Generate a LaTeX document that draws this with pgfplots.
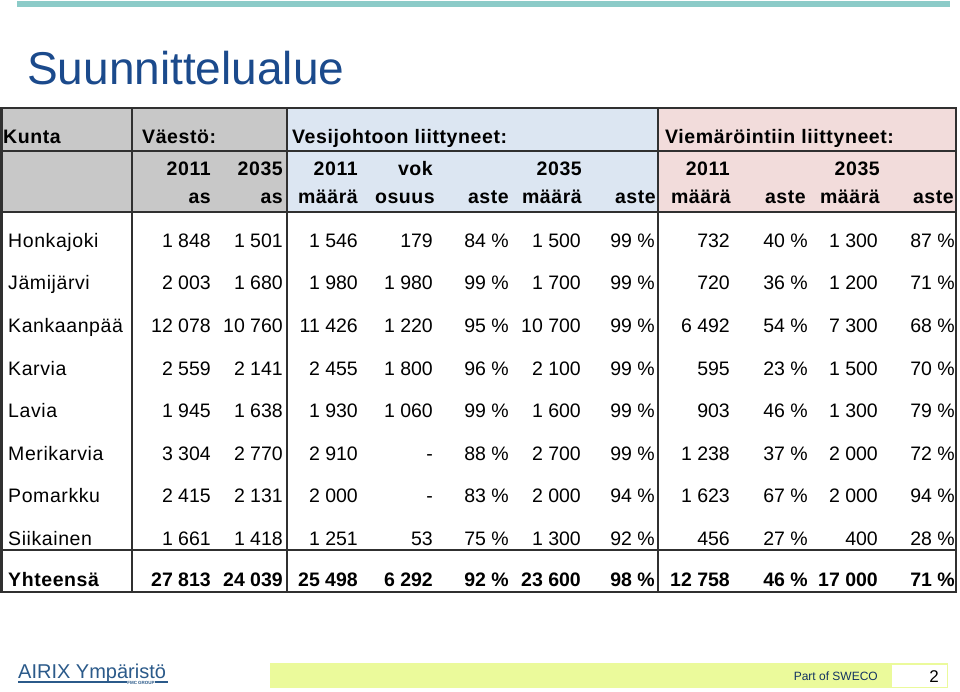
\documentclass[border=0pt]{standalone}
\usepackage{pgfplots}
\pgfplotsset{compat=1.18}
\usepackage{fontspec}
\setmainfont{Liberation Sans}
\newfontfamily\wide[LetterSpace=3]{Liberation Sans}
\definecolor{titleblue}{HTML}{1B4A8C}
\definecolor{tealline}{HTML}{8CCBC8}
\definecolor{hgrey}{HTML}{C8C8C8}
\definecolor{hblue}{HTML}{DCE6F2}
\definecolor{hpink}{HTML}{F2DCDB}
\definecolor{gridc}{HTML}{303030}
\definecolor{logoblue}{HTML}{2B5A8A}
\definecolor{footyellow}{HTML}{EBFA9B}
\newcommand\s{~}
\newcommand\R[3]{\node[anchor=base east,inner sep=0pt] at (axis cs:#1,#2) {#3};}
\newcommand\Lt[3]{\node[anchor=base west,inner sep=0pt] at (axis cs:#1,#2) {#3};}
% row: baseline, name, seven values (population and water)
\newcommand\rowA[9]{%
  \Lt{8}{#1}{\wide #2}\R{211}{#1}{#3}\R{283}{#1}{#4}\R{358}{#1}{#5}%
  \R{433}{#1}{#6}\R{509}{#1}{#7}\R{581}{#1}{#8}\R{655}{#1}{#9}}
% row: baseline, four sewer values
\newcommand\rowB[5]{%
  \R{730}{#1}{#2}\R{808}{#1}{#3}\R{878}{#1}{#4}\R{955}{#1}{#5}}
\begin{document}
\begin{tikzpicture}
\begin{axis}[scale only axis, width=960pt, height=692pt,
  xmin=0, xmax=960, ymin=0, ymax=692, y dir=reverse,
  hide axis, clip=false]
\fill[white] (axis cs:0,0) rectangle (axis cs:960,692);
% top line
\fill[tealline] (axis cs:17,1) rectangle (axis cs:950,7);
% title
\node[anchor=base west,inner sep=0pt,text=titleblue,font=\fontsize{46}{50}\selectfont] at (axis cs:27,85) {Suunnittelualue};
% header fills
\fill[hgrey] (axis cs:1,108) rectangle (axis cs:287,212);
\fill[hblue] (axis cs:287,108) rectangle (axis cs:658,212);
\fill[hpink] (axis cs:658,108) rectangle (axis cs:956,212);
% grid lines
\draw[gridc,line width=1.3pt] (axis cs:1,108) rectangle (axis cs:956,592);
\draw[gridc,line width=2pt] (axis cs:1.5,108) -- (axis cs:1.5,592);
\draw[gridc,line width=1.2pt] (axis cs:1,151) -- (axis cs:956,151);
\draw[gridc,line width=1.2pt] (axis cs:1,212) -- (axis cs:956,212);
\draw[gridc,line width=1.2pt] (axis cs:1,550) -- (axis cs:956,550);
\draw[gridc,line width=1.2pt] (axis cs:132,108) -- (axis cs:132,592);
\draw[gridc,line width=1.2pt] (axis cs:287,108) -- (axis cs:287,592);
\draw[gridc,line width=1.2pt] (axis cs:658,108) -- (axis cs:658,592);
% header text
\begin{scope}[font=\wide\bfseries\fontsize{19.5}{21}\selectfont]
\Lt{3}{144}{Kunta}
\Lt{142}{144}{Väestö:}
\Lt{292}{144}{Vesijohtoon liittyneet:}
\Lt{665}{144}{Viemäröintiin liittyneet:}
\R{211}{176}{2011}\R{283}{176}{2035}\R{358}{176}{2011}\R{433}{176}{vok}
\R{582}{176}{2035}\R{730}{176}{2011}\R{880}{176}{2035}
\R{211}{204}{as}\R{283}{204}{as}\R{358}{204}{määrä}\R{435}{204}{osuus}
\R{509}{204}{aste}\R{582}{204}{määrä}\R{656}{204}{aste}
\R{731}{204}{määrä}\R{806}{204}{aste}\R{880}{204}{määrä}\R{954}{204}{aste}
\end{scope}
% body
\begin{scope}[font=\fontsize{19.5}{21}\selectfont]
\rowA{247.5}{Honkajoki}{1\s848}{1\s501}{1\s546}{179}{84\s\%}{1\s500}{99\s\%}
\rowB{247.5}{732}{40\s\%}{1\s300}{87\s\%}
\rowA{290}{Jämijärvi}{2\s003}{1\s680}{1\s980}{1\s980}{99\s\%}{1\s700}{99\s\%}
\rowB{290}{720}{36\s\%}{1\s200}{71\s\%}
\rowA{332.5}{Kankaanpää}{12\s078}{10\s760}{11\s426}{1\s220}{95\s\%}{10\s700}{99\s\%}
\rowB{332.5}{6\s492}{54\s\%}{7\s300}{68\s\%}
\rowA{375}{Karvia}{2\s559}{2\s141}{2\s455}{1\s800}{96\s\%}{2\s100}{99\s\%}
\rowB{375}{595}{23\s\%}{1\s500}{70\s\%}
\rowA{417.5}{Lavia}{1\s945}{1\s638}{1\s930}{1\s060}{99\s\%}{1\s600}{99\s\%}
\rowB{417.5}{903}{46\s\%}{1\s300}{79\s\%}
\rowA{460}{Merikarvia}{3\s304}{2\s770}{2\s910}{-}{88\s\%}{2\s700}{99\s\%}
\rowB{460}{1\s238}{37\s\%}{2\s000}{72\s\%}
\rowA{502.5}{Pomarkku}{2\s415}{2\s131}{2\s000}{-}{83\s\%}{2\s000}{94\s\%}
\rowB{502.5}{1\s623}{67\s\%}{2\s000}{94\s\%}
\rowA{545}{Siikainen}{1\s661}{1\s418}{1\s251}{53}{75\s\%}{1\s300}{92\s\%}
\rowB{545}{456}{27\s\%}{400}{28\s\%}
\end{scope}
\begin{scope}[font=\bfseries\fontsize{19.5}{21}\selectfont]
\rowA{586}{Yhteensä}{27\s813}{24\s039}{25\s498}{6\s292}{92\s\%}{23\s600}{98\s\%}
\rowB{586}{12\s758}{46\s\%}{17\s000}{71\s\%}
\end{scope}
% footer
\fill[footyellow] (axis cs:270,663) rectangle (axis cs:948,688);
\fill[white] (axis cs:892,664.5) rectangle (axis cs:946.5,686.5);
\node[anchor=base east,inner sep=0pt,text=titleblue!70!black,font=\fontsize{12}{14}\selectfont] at (axis cs:878,680) {Part of SWECO};
\node[anchor=base east,inner sep=0pt,font=\fontsize{17}{18}\selectfont] at (axis cs:939,682) {2};
\node[anchor=base west,inner sep=0pt,text=logoblue,font=\fontsize{20}{22}\selectfont] at (axis cs:18,678) {AIRIX Ympäristö};
\draw[logoblue,line width=1.2pt] (axis cs:18,682) -- (axis cs:168,682);
\node[inner sep=0.6pt,fill=white,text=logoblue,font=\bfseries\fontsize{4.5}{5}\selectfont] at (axis cs:141,682.5) {FMC GROUP};
\end{axis}
\end{tikzpicture}
\end{document}
